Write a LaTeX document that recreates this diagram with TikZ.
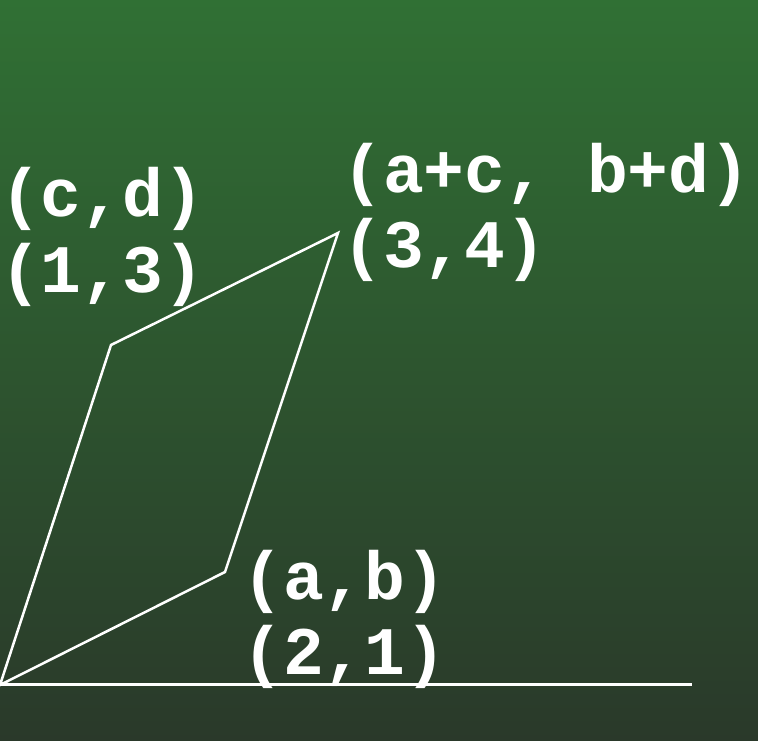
\documentclass[tikz,border=0pt]{standalone}
\usepackage{fontspec}
\newfontfamily\monobold[BoldFont={Liberation Mono Bold}]{Liberation Mono}
\definecolor{boardtop}{RGB}{48,112,52}
\definecolor{boardbottom}{RGB}{42,57,42}
\begin{document}
\begin{tikzpicture}[x=1pt, y=1pt,
    lbl/.style={white, anchor=base west, inner sep=0pt, font=\monobold\bfseries\fontsize{68}{76}\selectfont},
    edge/.style={white, line width=2.5pt, line join=miter}]
    % Sfondo (lavagna verde sfumata)
    \shade[top color=boardtop, bottom color=boardbottom] (0,0) rectangle (758,741);
    \useasboundingbox (0,0) rectangle (758,741);

    % Vertici del parallelogramma
    \coordinate (O) at (0,56);
    \coordinate (A) at (225,169);
    \coordinate (C) at (111,396);
    \coordinate (S) at (338,508);
    \coordinate (E) at (692,56);

    % Asse orizzontale
    \draw[white, line width=3pt] (O) -- (E);

    % Parallelogramma
    \draw[edge] (O) -- (A) -- (S) -- (C) -- cycle;

    % Etichette dei vertici
    \node[lbl] (cd) at (0,524) {(c,d)};
    \node[lbl] (cdval) at (0,448) {(1,3)};
    \node[lbl] (sum) at (342,548) {(a+c, b+d)};
    \node[lbl] (sumval) at (342,473) {(3,4)};
    \node[lbl] (ab) at (242,141) {(a,b)};
    \node[lbl] (abval) at (242,66) {(2,1)};
\end{tikzpicture}
\end{document}
